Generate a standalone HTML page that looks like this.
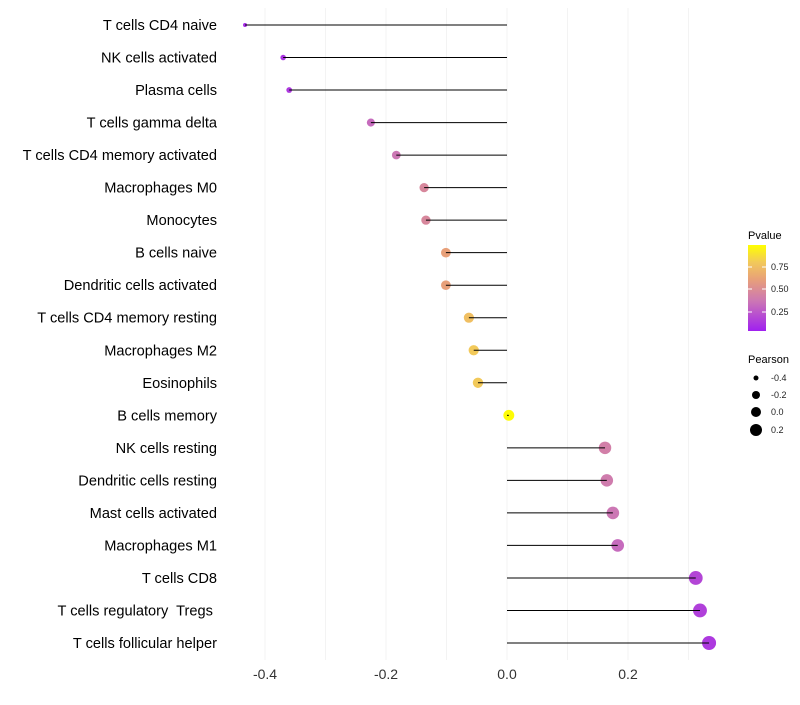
<!DOCTYPE html>
<html><head><meta charset="utf-8"><style>
body{margin:0;background:#fff;}
svg{font-family:"Liberation Sans",sans-serif;}
text{white-space:pre;}
</style></head><body>
<svg id="chart" width="800" height="700" xmlns="http://www.w3.org/2000/svg">
<defs>
<linearGradient id="pg" x1="0" y1="1" x2="0" y2="0">
<stop offset="0" stop-color="#a020f0"/><stop offset="0.35" stop-color="#cc77b4"/><stop offset="0.6" stop-color="#e8a079"/><stop offset="0.8" stop-color="#f2c95a"/><stop offset="1" stop-color="#ffff00"/>
</linearGradient>
</defs>
<g id="grid"></g><g id="marks"></g><g id="labels"></g>
<g>
<text x="748" y="239" font-size="11" fill="#000">Pvalue</text>
<rect x="748" y="245" width="18" height="86" fill="url(#pg)"/>
<line x1="748" y1="267" x2="752" y2="267" stroke="#fff"/><line x1="762" y1="267" x2="766" y2="267" stroke="#fff"/>
<line x1="748" y1="289" x2="752" y2="289" stroke="#fff"/><line x1="762" y1="289" x2="766" y2="289" stroke="#fff"/>
<line x1="748" y1="312" x2="752" y2="312" stroke="#fff"/><line x1="762" y1="312" x2="766" y2="312" stroke="#fff"/>
<text x="771" y="270" font-size="9" fill="#222">0.75</text>
<text x="771" y="292" font-size="9" fill="#222">0.50</text>
<text x="771" y="315" font-size="9" fill="#222">0.25</text>
</g>
<g>
<text x="748" y="363" font-size="11" fill="#000">Pearson</text>
<circle cx="756" cy="378" r="2.5" fill="#000"/><text x="771" y="381" font-size="9" fill="#222">-0.4</text>
<circle cx="756" cy="395" r="4" fill="#000"/><text x="771" y="398" font-size="9" fill="#222">-0.2</text>
<circle cx="756" cy="412" r="5" fill="#000"/><text x="771" y="415" font-size="9" fill="#222">0.0</text>
<circle cx="756" cy="430" r="6" fill="#000"/><text x="771" y="433" font-size="9" fill="#222">0.2</text>
</g>
</svg>
<script>
const categories=["T cells CD4 naive","NK cells activated","Plasma cells","T cells gamma delta","T cells CD4 memory activated","Macrophages M0","Monocytes","B cells naive","Dendritic cells activated","T cells CD4 memory resting","Macrophages M2","Eosinophils","B cells memory","NK cells resting","Dendritic cells resting","Mast cells activated","Macrophages M1","T cells CD8","T cells regulatory  Tregs ","T cells follicular helper"];
const pearson=[-0.433,-0.370,-0.360,-0.225,-0.183,-0.137,-0.134,-0.101,-0.101,-0.063,-0.055,-0.048,0.003,0.162,0.165,0.175,0.183,0.312,0.319,0.334];
const pvalues=[0.05,0.08,0.1,0.3,0.35,0.45,0.45,0.6,0.6,0.75,0.8,0.8,0.99,0.4,0.38,0.35,0.3,0.15,0.13,0.1];
const tickValues=[-0.4,-0.2,0.0,0.2];
const tickLabels=["-0.4","-0.2","0.0","0.2"];
const NS="http://www.w3.org/2000/svg";
function x(v){return 507+v*605;}
function y(i){return 25+i*(618/19);}
function r(v){const t=(v+0.433)/0.767;return Math.sqrt(4+t*45);}
const stops=[[0,[160,32,240]],[0.35,[204,119,180]],[0.6,[232,160,121]],[0.8,[242,201,90]],[1,[255,255,0]]];
function col(p){for(let k=1;k<stops.length;k++){if(p<=stops[k][0]){const a=stops[k-1],b=stops[k];const t=(p-a[0])/(b[0]-a[0]);return "rgb("+a[1].map((c,j)=>Math.round(c+(b[1][j]-c)*t)).join(",")+")";}}return "rgb(255,255,0)";}
function mk(t,attrs,parent){const e=document.createElementNS(NS,t);for(const k in attrs)e.setAttribute(k,attrs[k]);parent.appendChild(e);return e;}
const grid=document.getElementById("grid"),marks=document.getElementById("marks"),labels=document.getElementById("labels");
[-0.4,-0.3,-0.2,-0.1,0,0.1,0.2,0.3].forEach(v=>{
const g=mk("line",{x1:x(v),x2:x(v),y1:8,y2:660,stroke:"#f3f3f3","stroke-width":1},grid);


});
tickValues.forEach((v,i)=>{
const t=mk("text",{x:x(v),y:679,"font-size":14,fill:"#333","text-anchor":"middle"},labels);
t.textContent=tickLabels[i];


});
categories.forEach((c,i)=>{
const t=mk("text",{x:217,y:y(i)+5,"font-size":14.6,fill:"#000","text-anchor":"end"},labels);
t.textContent=c;


const d=mk("circle",{cx:x(pearson[i]),cy:y(i),r:r(pearson[i]),fill:col(pvalues[i])},marks);


const l=mk("line",{x1:x(0),x2:x(pearson[i]),y1:y(i),y2:y(i),stroke:"#000","stroke-width":1},marks);


});
</script>
</body></html>
